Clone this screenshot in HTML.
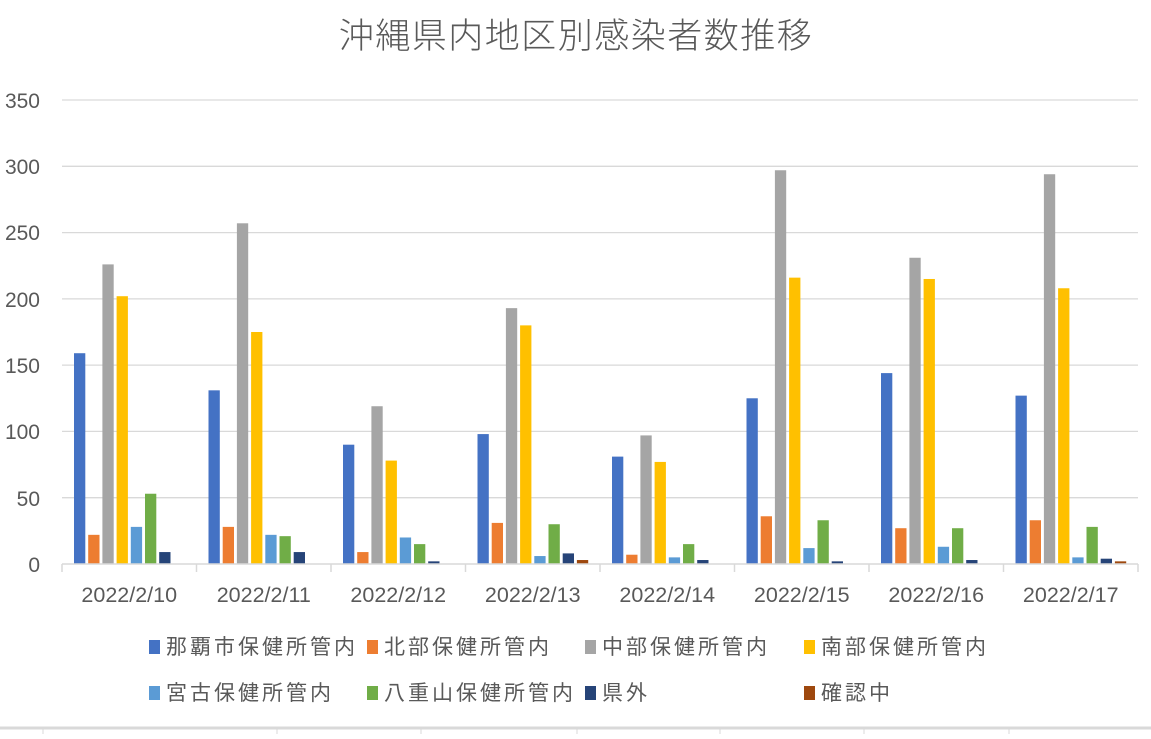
<!DOCTYPE html>
<html><head><meta charset="utf-8"><style>
html,body{margin:0;padding:0;background:#fff;}
svg text{font-family:"Liberation Sans","Noto Sans CJK JP",sans-serif;fill:#595959;}
</style></head><body>
<svg width="1151" height="734" xmlns="http://www.w3.org/2000/svg">
<text x="576" y="48" font-size="35" text-anchor="middle" letter-spacing="1.5" style="font-family:'Noto Sans CJK JP',sans-serif;font-weight:300">沖縄県内地区別感染者数推移</text>
<g stroke="#d9d9d9" stroke-width="1.3">
<line x1="62" x2="1138" y1="100" y2="100"/><line x1="62" x2="1138" y1="166.3" y2="166.3"/>
<line x1="62" x2="1138" y1="232.6" y2="232.6"/><line x1="62" x2="1138" y1="298.9" y2="298.9"/>
<line x1="62" x2="1138" y1="365.1" y2="365.1"/><line x1="62" x2="1138" y1="431.4" y2="431.4"/>
<line x1="62" x2="1138" y1="497.7" y2="497.7"/>
</g>
<g font-size="21" text-anchor="end">
<text x="40" y="108">350</text><text x="40" y="174">300</text><text x="40" y="240">250</text>
<text x="40" y="307">200</text><text x="40" y="373">150</text><text x="40" y="439">100</text>
<text x="40" y="506">50</text><text x="40" y="572">0</text>
</g>
<g id="bars"></g>
<g stroke="#d9d9d9" stroke-width="1.5" id="axis">
<line x1="62" x2="1138" y1="564" y2="564"/>
</g>
<g id="xl" font-size="21.5" text-anchor="middle"></g>
<g font-size="21" style="font-family:'Noto Sans CJK JP',sans-serif" letter-spacing="3">
<rect x="149" y="640" width="11" height="14" fill="#4472c4"/><text x="166" y="654">那覇市保健所管内</text>
<rect x="367" y="640" width="11" height="14" fill="#ed7d31"/><text x="384" y="654">北部保健所管内</text>
<rect x="585" y="640" width="11" height="14" fill="#a5a5a5"/><text x="602" y="654">中部保健所管内</text>
<rect x="804" y="640" width="11" height="14" fill="#ffc000"/><text x="821" y="654">南部保健所管内</text>
<rect x="149" y="686" width="11" height="14" fill="#5b9bd5"/><text x="166" y="700">宮古保健所管内</text>
<rect x="367" y="686" width="11" height="14" fill="#70ad47"/><text x="384" y="700">八重山保健所管内</text>
<rect x="585" y="686" width="11" height="14" fill="#264478"/><text x="602" y="700">県外</text>
<rect x="804" y="686" width="11" height="14" fill="#9e480e"/><text x="821" y="700">確認中</text>
</g>
<g stroke="#d9d9d9" stroke-width="1">
<line x1="0" x2="1151" y1="728" y2="728" stroke-width="3"/>
<line x1="43" x2="43" y1="728" y2="734"/><line x1="277" x2="277" y1="728" y2="734"/>
<line x1="421" x2="421" y1="728" y2="734"/><line x1="577" x2="577" y1="728" y2="734"/>
<line x1="720" x2="720" y1="728" y2="734"/><line x1="864" x2="864" y1="728" y2="734"/>
<line x1="1009" x2="1009" y1="728" y2="734"/>
</g>
<script>
var d=[[159,22,226,202,28,53,9,0],[131,28,257,175,22,21,9,0],[90,9,119,78,20,15,2,0],[98,31,193,180,6,30,8,3],[81,7,97,77,5,15,3,0],[125,36,297,216,12,33,2,0],[144,27,231,215,13,27,3,0],[127,33,294,208,5,28,4,2]];
var c=["#4472c4","#ed7d31","#a5a5a5","#ffc000","#5b9bd5","#70ad47","#264478","#9e480e"];
var ns="http://www.w3.org/2000/svg",g=document.getElementById("bars"),ax=document.getElementById("axis"),xl=document.getElementById("xl");
var cw=(1138-62)/8,k=464/350;
for(var i=0;i<8;i++){var x0=62+i*cw;
for(var j=0;j<8;j++){var v=d[i][j];if(!v)continue;var r=document.createElementNS(ns,"rect");
r.setAttribute("x",x0+12+j*14.2);r.setAttribute("width",11.3);r.setAttribute("y",564-v*k);r.setAttribute("height",v*k);r.setAttribute("fill",c[j]);g.appendChild(r);}
var t=document.createElementNS(ns,"text");t.setAttribute("x",x0+cw/2);t.setAttribute("y",602);t.textContent="2022/2/"+(10+i);xl.appendChild(t);}
for(var i=0;i<=8;i++){var l=document.createElementNS(ns,"line");var x=62+i*cw;l.setAttribute("x1",x);l.setAttribute("x2",x);l.setAttribute("y1",564);l.setAttribute("y2",572);ax.appendChild(l);}
</script>
</svg>
</body></html>
